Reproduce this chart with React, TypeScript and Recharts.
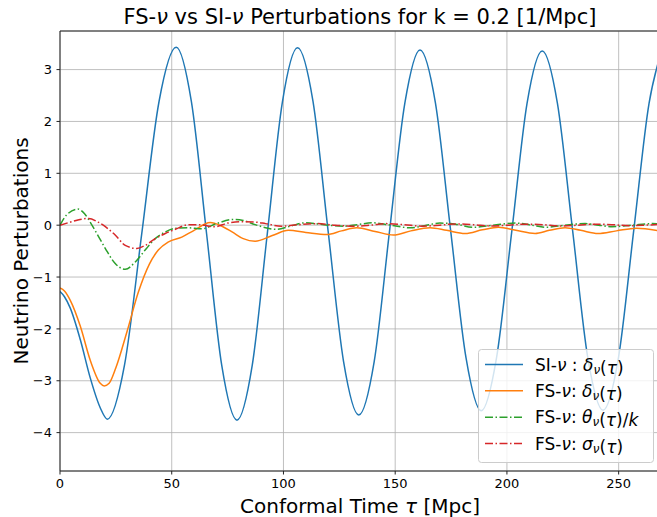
import { CartesianGrid, Line, LineChart, ReferenceLine, XAxis, YAxis } from "recharts"

// conformal time samples (Mpc) and values
const siTau = [
  0, 2, 4.6, 9.1, 13.5, 18, 21.2, 28.9, 36.6, 44.3, 52, 58.8, 65.6, 72.4, 79.2, 86.0, 92.75, 99.5,
  106.3, 113.2, 120.0, 126.9, 133.7, 140.6, 147.4, 154.3, 161.1, 168.0, 174.8, 181.7, 188.5, 195.3,
  202.2, 209.0, 215.8, 222.6, 229.4, 236.2, 243, 249.9, 256.75, 263.6, 268.5,
]
const siDelta = [
  -1.28, -1.38, -1.6, -2.21, -2.94, -3.52, -3.74, -2.69, -0.16, 2.38, 3.43, 2.38, -0.165, -2.71,
  -3.76, -2.71, -0.17, 2.37, 3.42, 2.39, -0.12, -2.63, -3.66, -2.63, -0.14, 2.35, 3.38, 2.36, -0.1,
  -2.56, -3.58, -2.57, -0.11, 2.35, 3.36, 2.35, -0.105, -2.56, -3.57, -2.56, -0.1, 2.35, 3.26,
]

const fsTau = [
  0, 2, 4.6, 9.1, 13.5, 18, 19.8, 22, 25, 30, 35, 40, 44, 48.6, 54.5, 60, 67.2, 72, 77, 82, 87.3, 95,
  102.2, 110, 119.4, 126, 132.8, 141, 149.2, 157, 165.6, 173, 181.3, 189, 196.2, 204, 212.6, 219, 226,
  233, 240.8, 249, 258, 268.5,
]
const fsDelta = [
  -1.21, -1.27, -1.45, -1.95, -2.6, -3.05, -3.1, -3.05, -2.75, -2.05, -1.3, -0.75, -0.48, -0.32,
  -0.23, -0.1, 0.05, -0.01, -0.13, -0.26, -0.31, -0.2, -0.1, -0.14, -0.18, -0.11, -0.05, -0.12, -0.19,
  -0.11, -0.05, -0.1, -0.16, -0.09, -0.04, -0.1, -0.16, -0.1, -0.05, -0.1, -0.16, -0.11, -0.06, -0.11,
]

const thetaTau = [
  0, 3, 8, 11, 14.3, 17, 20.3, 24.7, 29.2, 33.7, 38.1, 42.6, 47.1, 51.6, 57, 63.5, 70, 77.6, 82, 87.3,
  97, 103, 109.7, 118, 126.8, 133, 140.2, 148, 156.7, 163, 170, 177, 185, 194, 204, 211, 217.8, 226,
  235, 241, 247, 256, 265, 268.5,
]
const fsTheta = [
  0, 0.2, 0.31, 0.22, 0, -0.2, -0.45, -0.74, -0.85, -0.71, -0.48, -0.26, -0.13, -0.06, -0.05, -0.07,
  0.03, 0.11, 0.09, 0.01, -0.08, -0.02, 0.045, 0.01, -0.02, 0.01, 0.045, 0, -0.05, -0.01, 0.04, 0.02,
  -0.04, 0, 0.04, 0, -0.04, 0, 0.03, 0, -0.03, 0, 0.03, 0.02,
]

const sigmaTau = [
  0, 3.9, 8, 12.8, 17, 20.3, 24.7, 29.2, 34.4, 38.1, 42.6, 47.1, 51.6, 57.5, 62, 69.4, 75, 81, 87, 92,
  99, 107, 115, 123, 131.8, 139, 146, 154, 162, 170, 177, 185, 193, 201, 208, 216, 224, 232, 239, 247,
  255, 262, 268.5,
]
const fsSigma = [
  0, 0.05, 0.1, 0.13, 0.06, -0.03, -0.19, -0.39, -0.45, -0.39, -0.26, -0.16, -0.08, 0.01, 0.01, -0.03,
  0.04, 0.065, 0.06, 0.03, -0.02, 0.01, 0.03, 0, -0.02, 0, 0.03, 0.01, -0.02, 0, 0.025, 0.01, -0.015,
  0, 0.02, 0.01, -0.015, 0, 0.02, 0.01, -0.01, 0, 0.015,
]

const xTicks = [0, 50, 100, 150, 200, 250]
const yTicks = [-4, -3, -2, -1, 0, 1, 2, 3]

const X_MAX = 268.5
const Y_MIN = -4.74
const Y_MAX = 3.744

const FONT = "'DejaVu Sans', sans-serif"
const BLUE = "#1f77b4"
const ORANGE = "#ff7f0e"
const GREEN = "#2ca02c"
const RED = "#d62728"
const DASHDOT = "8 2.5 1.5 2.5"

const toPoints = (tau: number[], vals: number[]) => tau.map((t, i) => ({ t, v: vals[i] }))

const siData = toPoints(siTau, siDelta)
const fsData = toPoints(fsTau, fsDelta)
const thetaData = toPoints(thetaTau, fsTheta)
const sigmaData = toPoints(sigmaTau, fsSigma)

const fmt = (v: number) => String(v).replace("-", "\u2212")

const tickStyle = { fill: "#000", fontSize: 13, fontFamily: FONT }

function Sub({ children }: { children: string }) {
  return (
    <>
      <tspan fontStyle="italic" fontSize={12} dy={3}>
        {children}
      </tspan>
      <tspan dy={-3}>{""}</tspan>
    </>
  )
}

function Overlay() {
  const rows = [
    { color: BLUE, dash: undefined, y: 370.5 },
    { color: ORANGE, dash: undefined, y: 396.8 },
    { color: GREEN, dash: DASHDOT, y: 423.2 },
    { color: RED, dash: DASHDOT, y: 449.6 },
  ]
  return (
    <svg
      width={657}
      height={517}
      style={{ position: "absolute", left: 0, top: 0, pointerEvents: "none" }}
      fontFamily={FONT}
    >
      <text x={360} y={24} fontSize={21} textAnchor="middle" fill="#000">
        FS-<tspan fontStyle="italic">ν</tspan> vs SI-<tspan fontStyle="italic">ν</tspan> Perturbations
        for k = 0.2 [1/Mpc]
      </text>
      <text x={360} y={513} fontSize={20} textAnchor="middle" fill="#000">
        Conformal Time <tspan fontStyle="italic">τ</tspan> [Mpc]
      </text>
      <text transform="translate(28,251) rotate(-90)" fontSize={20} textAnchor="middle" fill="#000">
        Neutrino Perturbations
      </text>

      <rect x={478.5} y={349.5} width={175} height={113} rx={3} fill="#fff" fillOpacity={0.8} stroke="#ccc" />
      {rows.map((r) => (
        <line
          key={r.y}
          x1={485}
          x2={523}
          y1={r.y - 6}
          y2={r.y - 6}
          stroke={r.color}
          strokeWidth={1.5}
          strokeDasharray={r.dash}
        />
      ))}
      <text x={535} y={rows[0].y} fontSize={17} fill="#000">
        SI-<tspan fontStyle="italic">ν</tspan> : <tspan fontStyle="italic">δ</tspan>
        <Sub>ν</Sub>(<tspan fontStyle="italic">τ</tspan>)
      </text>
      <text x={535} y={rows[1].y} fontSize={17} fill="#000">
        FS-<tspan fontStyle="italic">ν</tspan>: <tspan fontStyle="italic">δ</tspan>
        <Sub>ν</Sub>(<tspan fontStyle="italic">τ</tspan>)
      </text>
      <text x={535} y={rows[2].y} fontSize={17} fill="#000">
        FS-<tspan fontStyle="italic">ν</tspan>: <tspan fontStyle="italic">θ</tspan>
        <Sub>ν</Sub>(<tspan fontStyle="italic">τ</tspan>)/<tspan fontStyle="italic">k</tspan>
      </text>
      <text x={535} y={rows[3].y} fontSize={17} fill="#000">
        FS-<tspan fontStyle="italic">ν</tspan>: <tspan fontStyle="italic">σ</tspan>
        <Sub>ν</Sub>(<tspan fontStyle="italic">τ</tspan>)
      </text>
    </svg>
  )
}

export default function App() {
  return (
    <div
      style={{
        position: "absolute",
        left: 0,
        top: 0,
        width: 657,
        height: 517,
        overflow: "hidden",
        background: "#fff",
        fontFamily: FONT,
      }}
    >
      <LineChart width={660} height={517} margin={{ top: 31, right: 0, bottom: 0, left: 0 }}>
        <CartesianGrid stroke="#b0b0b0" strokeWidth={0.8} />
        <XAxis
          dataKey="t"
          type="number"
          domain={[0, X_MAX]}
          ticks={xTicks}
          tickFormatter={fmt}
          height={46}
          tick={tickStyle}
          tickSize={3.5}
          tickMargin={3.8}
          stroke="#222"
          allowDataOverflow
        />
        <YAxis
          type="number"
          domain={[Y_MIN, Y_MAX]}
          ticks={yTicks}
          tickFormatter={fmt}
          width={60}
          tick={tickStyle}
          tickSize={3.5}
          tickMargin={4.5}
          stroke="#222"
          allowDataOverflow
        />
        <ReferenceLine y={Y_MAX} stroke="#222" strokeWidth={1} />
        <Line data={siData} dataKey="v" type="monotone" stroke={BLUE} strokeWidth={1.5} dot={false} isAnimationActive={false} />
        <Line data={fsData} dataKey="v" type="monotone" stroke={ORANGE} strokeWidth={1.5} dot={false} isAnimationActive={false} />
        <Line
          data={thetaData}
          dataKey="v"
          type="monotone"
          stroke={GREEN}
          strokeWidth={1.5}
          strokeDasharray={DASHDOT}
          dot={false}
          isAnimationActive={false}
        />
        <Line
          data={sigmaData}
          dataKey="v"
          type="monotone"
          stroke={RED}
          strokeWidth={1.5}
          strokeDasharray={DASHDOT}
          dot={false}
          isAnimationActive={false}
        />
      </LineChart>
      <Overlay />
    </div>
  )
}
